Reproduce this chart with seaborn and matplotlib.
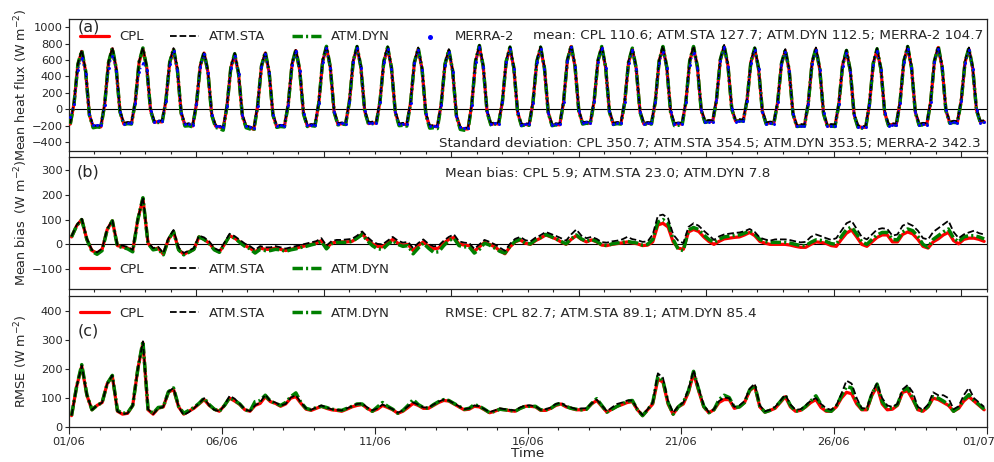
import matplotlib
matplotlib.use("Agg")
import matplotlib.pyplot as plt
import seaborn as sns
import numpy as np
import pandas as pd
from matplotlib.ticker import FixedLocator, NullFormatter, FixedFormatter
from matplotlib.transforms import ScaledTranslation

sns.set_theme(context="paper", style="ticks")
plt.rcParams["font.family"] = ["DejaVu Sans"]

# ---------------- data ----------------
N_DAYS = 30
HOURS_A = [1, 4, 7, 10, 13, 16, 19, 22]          # sampling hours, panel (a)
HOURS_BC = [2, 6, 10, 14, 18, 22]                # sampling hours, panels (b), (c)
DATE_LABELS = ["01/06", "06/06", "11/06", "16/06", "21/06", "26/06", "01/07"]
SERIES = ["CPL", "ATM.STA", "ATM.DYN"]

# (a) mean heat flux, W m-2 (one row per day)
CPL_FLUX = [
    -180, 77, 546, 705, 466, -68, -220, -210,
    -215, 61, 564, 735, 498, -29, -180, -170,
    -175, 89, 571, 735, 504, -13, -160, -150,
    -155, 100, 567, 725, 487, -44, -195, -185,
    -205, 64, 528, 685, 452, -67, -205, -215,
    -235, 44, 508, 665, 435, -78, -215, -225,
    -245, 42, 522, 685, 452, -67, -215, -205,
    -210, 58, 549, 715, 477, -54, -205, -195,
    -200, 77, 583, 755, 512, -30, -185, -175,
    -180, 91, 585, 753, 513, -22, -175, -165,
    -170, 95, 580, 745, 503, -36, -190, -180,
    -190, 81, 568, 733, 488, -59, -215, -205,
    -215, 58, 547, 713, 467, -83, -230, -240,
    -240, 55, 585, 765, 519, -29, -185, -175,
    -180, 88, 579, 745, 502, -40, -195, -185,
    -190, 81, 577, 745, 502, -40, -195, -185,
    -190, 87, 593, 765, 522, -20, -175, -165,
    -170, 98, 587, 753, 512, -27, -180, -170,
    -175, 88, 570, 733, 497, -30, -180, -170,
    -175, 94, 586, 753, 510, -31, -185, -175,
    -180, 91, 585, 753, 518, -6, -155, -145,
    -150, 115, 600, 765, 530, 5, -145, -135,
    -140, 113, 576, 733, 498, -26, -175, -165,
    -170, 86, 554, 713, 476, -54, -205, -195,
    -200, 71, 565, 733, 490, -51, -205, -195,
    -200, 62, 542, 705, 466, -68, -210, -220,
    -220, 58, 556, 725, 487, -44, -195, -185,
    -190, 83, 583, 753, 509, -35, -190, -180,
    -185, 87, 584, 753, 516, -14, -165, -155,
    -160, 99, 572, 733, 503, -9, -155, -150,
]
STA_FLUX = [
    -170, 92, 561, 725, 481, -53, -205, -195,
    -200, 76, 579, 755, 513, -14, -165, -155,
    -160, 104, 586, 755, 519, 2, -145, -135,
    -140, 115, 582, 745, 502, -29, -180, -170,
    -190, 79, 543, 705, 467, -52, -190, -200,
    -220, 59, 523, 685, 450, -63, -200, -210,
    -230, 57, 537, 705, 467, -52, -200, -190,
    -195, 73, 564, 735, 492, -39, -190, -180,
    -185, 92, 598, 775, 527, -15, -170, -160,
    -165, 106, 600, 773, 528, -7, -160, -150,
    -155, 110, 595, 765, 518, -21, -175, -165,
    -175, 96, 583, 753, 503, -44, -200, -190,
    -200, 73, 562, 733, 482, -68, -215, -225,
    -225, 70, 600, 785, 534, -14, -170, -160,
    -165, 103, 594, 765, 517, -25, -180, -170,
    -175, 96, 592, 765, 517, -25, -180, -170,
    -175, 102, 608, 785, 537, -5, -160, -150,
    -155, 113, 602, 773, 527, -12, -165, -155,
    -160, 103, 585, 753, 512, -15, -165, -155,
    -160, 109, 601, 773, 525, -16, -170, -160,
    -165, 106, 600, 773, 533, 9, -140, -130,
    -135, 130, 615, 785, 545, 20, -130, -120,
    -125, 128, 591, 753, 513, -11, -160, -150,
    -155, 101, 569, 733, 491, -39, -190, -180,
    -185, 86, 580, 753, 505, -36, -190, -180,
    -185, 77, 557, 725, 481, -53, -195, -205,
    -205, 73, 571, 745, 502, -29, -180, -170,
    -175, 98, 598, 773, 524, -20, -175, -165,
    -170, 102, 599, 773, 531, 1, -150, -140,
    -145, 114, 587, 753, 518, 6, -140, -135,
]
DYN_FLUX = [
    -180, 77, 550, 717, 470, -70, -225, -215,
    -220, 61, 568, 747, 502, -30, -185, -175,
    -180, 89, 575, 747, 508, -15, -165, -160,
    -165, 100, 571, 737, 490, -48, -205, -200,
    -215, 64, 532, 697, 455, -72, -220, -235,
    -255, 44, 512, 677, 438, -82, -225, -240,
    -260, 42, 526, 697, 455, -70, -220, -210,
    -215, 58, 553, 727, 480, -56, -210, -200,
    -205, 77, 587, 767, 515, -32, -190, -180,
    -185, 91, 589, 765, 516, -25, -180, -175,
    -180, 95, 584, 757, 506, -40, -200, -195,
    -205, 81, 572, 745, 490, -65, -230, -225,
    -235, 58, 551, 725, 470, -88, -245, -255,
    -255, 55, 589, 777, 522, -32, -190, -180,
    -185, 88, 583, 757, 505, -43, -200, -190,
    -195, 81, 581, 757, 505, -43, -200, -190,
    -195, 87, 597, 777, 525, -22, -180, -170,
    -175, 98, 591, 765, 515, -30, -185, -175,
    -180, 88, 574, 745, 500, -33, -185, -175,
    -180, 94, 590, 765, 513, -35, -200, -195,
    -195, 91, 589, 765, 521, -8, -160, -150,
    -155, 115, 604, 777, 533, 3, -150, -140,
    -145, 113, 580, 745, 501, -28, -180, -170,
    -175, 86, 558, 725, 479, -57, -210, -205,
    -205, 71, 569, 745, 493, -54, -210, -205,
    -210, 62, 546, 717, 469, -70, -220, -230,
    -230, 58, 560, 737, 490, -46, -200, -190,
    -195, 83, 587, 765, 512, -38, -195, -190,
    -190, 87, 588, 765, 519, -16, -170, -160,
    -165, 99, 576, 745, 506, -11, -160, -155,
]
MERRA_FLUX = [
    -100, 60, 480, 620, 430, -60, -190, -190,
    -190, 55, 500, 650, 470, -30, -175, -170,
    -170, 80, 450, 560, 480, -20, -150, -140,
    -145, 95, 555, 710, 480, -45, -185, -180,
    -195, 60, 520, 675, 445, -65, -200, -205,
    -220, 40, 500, 655, 430, -75, -205, -215,
    -230, 40, 515, 675, 445, -65, -200, -195,
    -200, 55, 540, 705, 470, -55, -195, -190,
    -190, 75, 575, 745, 505, -30, -180, -170,
    -175, 90, 575, 745, 505, -25, -170, -165,
    -165, 90, 570, 735, 495, -35, -185, -175,
    -180, 80, 560, 725, 480, -55, -205, -200,
    -205, 55, 540, 700, 460, -80, -220, -225,
    -225, 55, 575, 755, 510, -30, -180, -170,
    -175, 85, 570, 735, 495, -40, -190, -180,
    -185, 80, 570, 735, 495, -40, -190, -180,
    -185, 85, 585, 755, 515, -20, -170, -160,
    -165, 95, 580, 745, 505, -25, -175, -165,
    -170, 85, 560, 720, 490, -30, -175, -165,
    -170, 90, 560, 700, 500, -30, -180, -170,
    -175, 85, 540, 690, 505, -10, -160, -150,
    -150, 110, 590, 755, 520, 0, -150, -140,
    -145, 105, 565, 720, 490, -30, -180, -170,
    -175, 85, 545, 700, 465, -55, -210, -200,
    -205, 70, 555, 720, 480, -50, -210, -200,
    -205, 60, 530, 690, 455, -65, -215, -220,
    -220, 55, 545, 710, 480, -45, -200, -190,
    -195, 80, 570, 740, 500, -35, -195, -185,
    -190, 85, 570, 740, 505, -15, -170, -160,
    -165, 95, 560, 720, 495, -10, -165, -160,
]

# (b) mean bias, W m-2
CPL_BIAS = [
    30, 75, 100, 20, -25, -35,
    -20, 60, 95, -5, -10, -15,
    -25, 100, 185, 5, -20, -15,
    -40, 20, 50, -20, -40, -30,
    -20, 30, 20, 5, -20, -30,
    0, 35, 25, 10, -5, -15,
    -30, -15, -20, -20, -15, -20,
    -25, -20, -15, -10, -5, 0,
    5, 15, -15, 5, 10, 10,
    10, 12, 25, 42, 20, 2,
    -8, -10, 5, 20, 5, -3,
    0, -25, -5, 10, -8, -18,
    -15, 5, 20, 28, 2, -3,
    -5, -28, -10, 8, 0, -10,
    -25, -38, -10, 10, 18, 5,
    0, 15, 25, 38, 30, 22,
    10, 0, 20, 35, 20, 10,
    18, 10, -3, -5, 0, 3,
    6, 10, 6, 2, -5, -3,
    10, 78, 85, 70, 10, -15,
    -20, 50, 60, 52, 30, 12,
    0, 12, 22, 25, 28, 30,
    38, 48, 35, 12, 5, 0,
    0, 0, 0, -3, -8, -12,
    -12, 0, 10, 8, 4, -5,
    -8, 20, 45, 58, 30, 0,
    -8, 10, 28, 38, 38, 10,
    10, 40, 50, 42, 20, -8,
    -15, 10, 22, 38, 48, 15,
    2, 20, 25, 25, 20, 12,
]
STA_BIAS = [
    33, 78, 103, 23, -22, -32,
    -17, 63, 98, -2, -5, -10,
    -22, 103, 190, 8, -15, -10,
    -35, 25, 58, -12, -35, -25,
    -15, 35, 28, 12, -15, -25,
    8, 43, 33, 18, 3, -7,
    -22, -7, -12, -12, -7, -12,
    -17, -12, -7, -2, 3, 8,
    13, 25, -5, 13, 18, 18,
    20, 22, 35, 52, 30, 12,
    2, 0, 15, 30, 15, 7,
    10, -15, 5, 20, 2, -8,
    -5, 15, 30, 40, 12, 7,
    5, -18, 0, 18, 10, 0,
    -13, -26, 2, 22, 30, 17,
    12, 27, 37, 50, 42, 34,
    25, 15, 40, 60, 35, 25,
    30, 22, 9, 7, 12, 15,
    20, 30, 21, 17, 10, 12,
    40, 115, 120, 105, 40, 15,
    5, 70, 85, 75, 55, 37,
    18, 32, 40, 43, 46, 48,
    53, 62, 50, 27, 20, 15,
    20, 20, 20, 17, 12, 8,
    10, 30, 40, 33, 25, 18,
    25, 55, 85, 95, 62, 30,
    20, 40, 60, 65, 62, 35,
    40, 75, 85, 75, 55, 25,
    20, 50, 65, 80, 95, 50,
    25, 40, 48, 55, 45, 40,
]
DYN_BIAS = [
    30, 75, 100, 20, -28, -40,
    -25, 60, 95, -8, -12, -18,
    -30, 100, 188, 3, -22, -18,
    -42, 20, 52, -22, -42, -32,
    -20, 30, 20, 3, -22, -32,
    0, 35, 25, 8, -8, -18,
    -35, -20, -25, -25, -20, -22,
    -28, -22, -18, -12, -8, -2,
    3, 12, -18, 3, 8, 8,
    8, 12, 25, 40, 15, -5,
    -18, -20, 0, 15, 0, -8,
    -5, -38, -15, 5, -15, -32,
    -30, -5, 15, 25, -5, -10,
    -10, -35, -20, 5, -3, -15,
    -28, -35, -8, 12, 20, 5,
    2, 18, 28, 40, 32, 22,
    12, 2, 22, 38, 22, 12,
    20, 12, -2, -5, 2, 5,
    8, 12, 8, 5, -3, 0,
    20, 90, 100, 85, 20, -20,
    -25, 58, 68, 60, 38, 20,
    8, 20, 30, 33, 36, 38,
    45, 55, 42, 20, 12, 8,
    8, 8, 8, 5, 0, -5,
    -5, 8, 18, 16, 12, 3,
    0, 32, 60, 70, 42, 10,
    0, 20, 38, 48, 48, 20,
    18, 50, 62, 55, 32, 0,
    -12, 20, 35, 50, 62, 25,
    10, 30, 35, 35, 30, 22,
]

# (c) RMSE, W m-2
CPL_RMSE = [
    40, 140, 210, 110, 60, 75,
    85, 150, 175, 55, 45, 48,
    75, 200, 290, 60, 45, 65,
    70, 120, 130, 70, 45, 55,
    65, 80, 95, 75, 62, 55,
    75, 100, 90, 78, 60, 55,
    75, 82, 105, 88, 82, 72,
    80, 100, 105, 82, 62, 58,
    65, 72, 65, 60, 58, 55,
    62, 70, 75, 78, 65, 55,
    62, 75, 68, 60, 48, 55,
    68, 82, 75, 65, 65, 75,
    85, 92, 90, 80, 70, 60,
    62, 72, 70, 60, 50, 55,
    62, 60, 57, 55, 65, 72,
    72, 70, 58, 58, 65, 75,
    80, 70, 65, 60, 60, 62,
    80, 92, 72, 52, 62, 72,
    78, 85, 88, 60, 40, 60,
    80, 165, 155, 80, 45, 70,
    80, 120, 185, 125, 70, 50,
    60, 85, 95, 95, 65, 70,
    85, 125, 140, 70, 52, 58,
    65, 85, 105, 70, 55, 58,
    70, 85, 95, 68, 55, 55,
    70, 100, 120, 115, 80, 60,
    60, 110, 140, 80, 60, 62,
    75, 120, 125, 95, 60, 55,
    70, 100, 95, 85, 75, 55,
    65, 90, 105, 90, 75, 60,
]
STA_RMSE = [
    40, 140, 212, 112, 60, 75,
    85, 150, 178, 55, 45, 48,
    75, 200, 295, 62, 45, 65,
    70, 122, 135, 70, 42, 52,
    65, 82, 100, 75, 60, 55,
    75, 108, 98, 80, 62, 55,
    75, 85, 112, 90, 85, 75,
    80, 102, 110, 85, 65, 60,
    68, 75, 68, 62, 60, 58,
    65, 72, 80, 82, 68, 58,
    65, 78, 70, 62, 50, 58,
    72, 85, 78, 68, 68, 78,
    88, 95, 92, 82, 72, 62,
    65, 75, 72, 62, 52, 58,
    65, 62, 60, 58, 68, 75,
    75, 72, 60, 62, 68, 80,
    85, 72, 68, 62, 65, 65,
    82, 95, 75, 55, 68, 80,
    85, 92, 92, 62, 42, 62,
    85, 185, 170, 90, 50, 72,
    85, 130, 195, 135, 75, 52,
    62, 90, 102, 100, 70, 75,
    90, 132, 150, 75, 55, 60,
    70, 90, 112, 78, 60, 62,
    75, 92, 100, 80, 65, 60,
    75, 115, 160, 150, 100, 65,
    65, 120, 150, 100, 75, 70,
    80, 130, 145, 120, 70, 60,
    78, 120, 110, 110, 100, 62,
    72, 110, 135, 100, 85, 70,
]
DYN_RMSE = [
    40, 140, 215, 112, 60, 75,
    85, 150, 178, 58, 48, 50,
    75, 200, 295, 62, 48, 68,
    70, 122, 135, 72, 48, 58,
    68, 82, 100, 78, 62, 55,
    75, 102, 92, 80, 60, 55,
    88, 92, 110, 90, 82, 75,
    85, 105, 118, 85, 65, 60,
    68, 72, 68, 62, 60, 58,
    65, 72, 80, 80, 65, 55,
    70, 85, 72, 62, 48, 58,
    75, 95, 78, 68, 65, 78,
    88, 95, 92, 82, 72, 62,
    65, 78, 72, 62, 50, 55,
    62, 60, 58, 55, 65, 72,
    72, 72, 60, 60, 65, 78,
    82, 72, 65, 62, 60, 62,
    82, 98, 75, 52, 62, 72,
    80, 90, 92, 60, 40, 60,
    85, 175, 160, 85, 45, 70,
    85, 125, 192, 130, 72, 50,
    60, 95, 110, 102, 68, 70,
    85, 128, 145, 72, 52, 58,
    68, 88, 110, 75, 55, 58,
    72, 90, 108, 78, 58, 55,
    72, 108, 140, 135, 88, 62,
    62, 115, 148, 88, 65, 65,
    78, 125, 135, 100, 62, 55,
    72, 105, 100, 90, 78, 55,
    68, 95, 112, 92, 78, 62,
]

MEAN_TEXT = "mean: CPL 110.6; ATM.STA 127.7; ATM.DYN 112.5; MERRA-2 104.7"
STD_TEXT = "Standard deviation: CPL 350.7; ATM.STA 354.5; ATM.DYN 353.5; MERRA-2 342.3"
BIAS_TEXT = "Mean bias: CPL 5.9; ATM.STA 23.0; ATM.DYN 7.8"
RMSE_TEXT = "RMSE: CPL 82.7; ATM.STA 89.1; ATM.DYN 85.4"

# ---------------- frames ----------------
t_a = [d + h / 24 for d in range(N_DAYS) for h in HOURS_A]
t_bc = [d + h / 24 for d in range(N_DAYS) for h in HOURS_BC]
df_a = pd.DataFrame({"t": t_a, "CPL": CPL_FLUX, "ATM.STA": STA_FLUX,
                     "ATM.DYN": DYN_FLUX, "MERRA-2": MERRA_FLUX})
df_b = pd.DataFrame({"t": t_bc, "CPL": CPL_BIAS, "ATM.STA": STA_BIAS, "ATM.DYN": DYN_BIAS})
df_c = pd.DataFrame({"t": t_bc, "CPL": CPL_RMSE, "ATM.STA": STA_RMSE, "ATM.DYN": DYN_RMSE})

STYLE = {
    "CPL": dict(color="#ff0000", linewidth=2.3, linestyle="-", zorder=3),
    "ATM.DYN": dict(color="#008000", linewidth=2.5, linestyle=(0, (3.0, 0.9, 0.6, 0.9)), zorder=4),
    "ATM.STA": dict(color="black", linewidth=1.3, linestyle="--", zorder=5),
}

W, H = 994, 462
fig = plt.figure(figsize=(W / 100, H / 100), dpi=100)
x0, x1 = 69 / W, 986.7 / W
ax_a = fig.add_axes([x0, 1 - 150.7 / H, x1 - x0, (150.7 - 19) / H])
ax_b = fig.add_axes([x0, 1 - 289.3 / H, x1 - x0, (289.3 - 157) / H])
ax_c = fig.add_axes([x0, 1 - 427.3 / H, x1 - x0, (427.3 - 295.5) / H])

TICK_FS = 8.2
LEG_FS = 9.5
TXT_FS = 9.7
LAB_FS = 9.2


def draw_series(ax, df, names):
    for name in ["CPL", "ATM.DYN", "ATM.STA"]:
        if name in names:
            sns.lineplot(data=df, x="t", y=name, ax=ax, label=name, legend=False,
                         sort=False, errorbar=None, **STYLE[name])


def style_axis(ax, ylim, yticks, ylabel, hour_ticks=True):
    ax.set_xlim(0, N_DAYS)
    ax.set_ylim(*ylim)
    ax.set_yticks(yticks)
    ax.tick_params(axis="y", direction="out", length=2.6, width=0.8, labelsize=TICK_FS, pad=2)
    if hour_ticks:
        ax.xaxis.set_major_locator(FixedLocator([h / 24 for h in range(0, 721, 100)]))
        ax.xaxis.set_minor_locator(FixedLocator([h / 24 for h in range(0, 721, 20)]))
        ax.xaxis.set_major_formatter(NullFormatter())
    ax.tick_params(axis="x", which="major", direction="out", length=4.8, width=0.8, labelsize=TICK_FS)
    ax.tick_params(axis="x", which="minor", direction="out", length=2.4, width=0.8)
    for sp in ax.spines.values():
        sp.set_visible(True)
        sp.set_linewidth(0.9)
        sp.set_color("#222222")
    ax.set_xlabel("")
    ax.set_ylabel(ylabel, fontsize=LAB_FS)
    ax.yaxis.set_label_coords(-0.043, 0.5)


def add_legend(ax, y, names):
    handles, labels = ax.get_legend_handles_labels()
    lookup = dict(zip(labels, handles))
    ax.legend([lookup[n] for n in names], names, loc="center left",
              bbox_to_anchor=((80 - 69) / 917.7, y), borderaxespad=0, borderpad=0,
              frameon=False, ncol=len(names), fontsize=LEG_FS, handlelength=2.2,
              handletextpad=0.75, columnspacing=2.0, markerscale=1.7)


# ---- (a)
draw_series(ax_a, df_a, SERIES)
sns.lineplot(data=df_a, x="t", y="MERRA-2", ax=ax_a, color="blue", linewidth=1.0,
             linestyle=(0, (1, 2)), legend=False, sort=False, errorbar=None, zorder=6)
sns.scatterplot(data=df_a, x="t", y="MERRA-2", ax=ax_a, color="blue", marker=".",
                s=18, linewidth=0, label="MERRA-2", legend=False, zorder=7)
ax_a.axhline(0, color="black", lw=0.8, zorder=1)
style_axis(ax_a, (-505, 1100), range(-400, 1001, 200), r"Mean heat flux (W m$^{-2}$)")
add_legend(ax_a, 0.866, SERIES + ["MERRA-2"])
ax_a.text(0.009, 0.995, "(a)", transform=ax_a.transAxes, fontsize=11.5, va="top", ha="left")
ax_a.text(0.996, 0.878, MEAN_TEXT, transform=ax_a.transAxes, fontsize=TXT_FS, va="center", ha="right")
ax_a.text(0.993, 0.058, STD_TEXT, transform=ax_a.transAxes, fontsize=TXT_FS, va="center", ha="right")

# ---- (b)
draw_series(ax_b, df_b, SERIES)
ax_b.axhline(0, color="black", lw=0.8, zorder=1)
style_axis(ax_b, (-181, 352), range(-100, 301, 100), r"Mean bias  (W m$^{-2}$)")
add_legend(ax_b, 0.153, SERIES)
ax_b.text(0.008, 0.94, "(b)", transform=ax_b.transAxes, fontsize=11.5, va="top", ha="left")
ax_b.text((445 - 69) / 917.7, 0.879, BIAS_TEXT, transform=ax_b.transAxes, fontsize=TXT_FS,
          va="center", ha="left")

# ---- (c)
draw_series(ax_c, df_c, SERIES)
style_axis(ax_c, (0, 452), range(0, 401, 100), r"RMSE (W m$^{-2}$)", hour_ticks=False)
ax_c.xaxis.set_major_locator(FixedLocator(list(range(0, N_DAYS + 1, 5))))
ax_c.xaxis.set_minor_locator(FixedLocator(list(range(0, N_DAYS + 1))))
ax_c.xaxis.set_major_formatter(FixedFormatter(DATE_LABELS))
ax_c.tick_params(axis="x", which="major", labelsize=TICK_FS, pad=2)
ax_c.set_xlabel("Time", fontsize=TXT_FS, labelpad=0)
add_legend(ax_c, 0.867, SERIES)
ax_c.text(0.009, 0.73, "(c)", transform=ax_c.transAxes, fontsize=11.5, va="center", ha="left")
ax_c.text((445 - 69) / 917.7, 0.867, RMSE_TEXT, transform=ax_c.transAxes, fontsize=TXT_FS,
          va="center", ha="left")

# last date label sits just inside the figure edge, as in the reference
fig.canvas.draw()
last = ax_c.get_xticklabels()[-1]
last.set_transform(last.get_transform() + ScaledTranslation(-8 / 100, 0, fig.dpi_scale_trans))

fig.savefig("out.png", dpi=100)
